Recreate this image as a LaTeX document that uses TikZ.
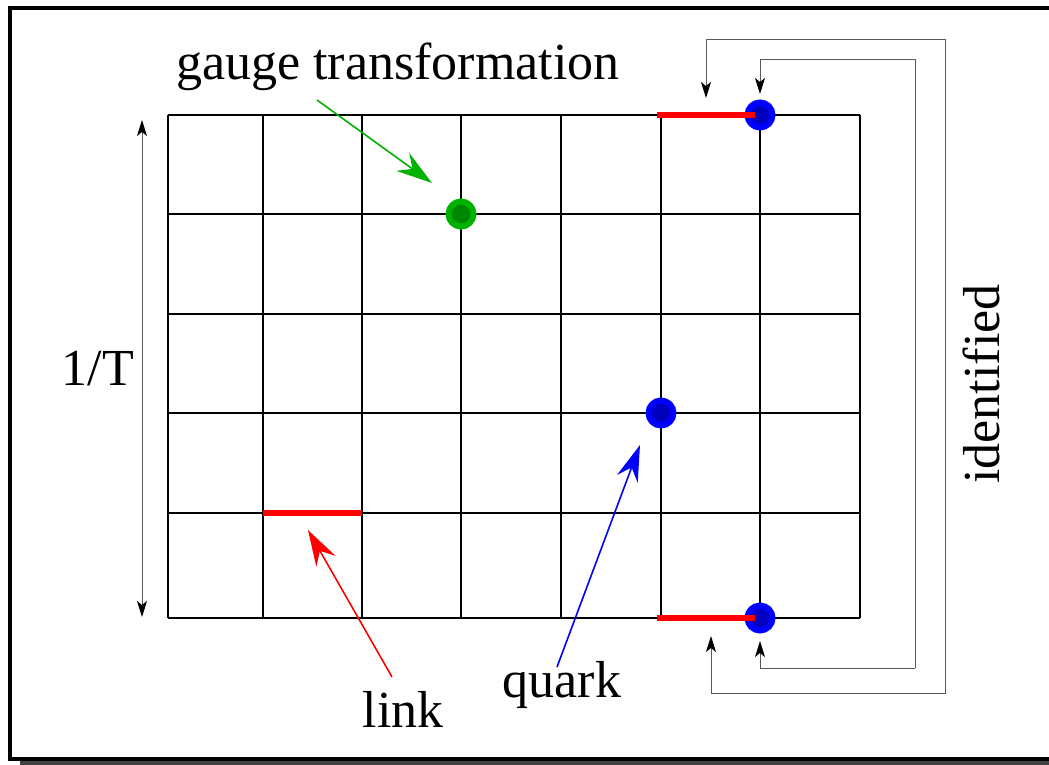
\documentclass[tikz,border=0pt]{standalone}
\usepackage{fontspec}
\setmainfont{Liberation Serif}
\usetikzlibrary{arrows.meta}
\tikzset{
  lbl/.style={font=\fontsize{26}{31}\selectfont, anchor=base},
  pointer/.style={line width=0.8pt, -{Stealth[length=18pt,width=11pt,inset=6pt]}},
  ident/.style={line width=0.5pt, gray!70!black, -{Stealth[length=8pt,width=5pt,inset=2pt,black]}},
  link/.style={red, line width=2.8pt},
  site/.style={circle, inner sep=0pt, minimum size=12.5pt, fill=#1!75!black, draw=#1, line width=3pt}
}
\begin{document}
\begin{tikzpicture}[x=0.5pt, y=-0.5pt]
  \useasboundingbox (0,0) rectangle (1049,765);
  % frame with shadow
  \fill[black!75] (20,18) rectangle (1065,765);
  \draw[line width=2pt, fill=white] (10,8) rectangle (1055,759);
  % lattice
  \foreach \x in {168,263,362,461,561,661,760,860}
    \draw[line width=1pt] (\x,115) -- (\x,618);
  \foreach \y in {115,214,314,413,513,618}
    \draw[line width=1pt] (168,\y) -- (860,\y);
  % sites
  \node[site=green!70!black] (g) at (461,214) {};
  \node[site=blue] (q1) at (760,115) {};
  \node[site=blue] (q2) at (661,413) {};
  \node[site=blue] (q3) at (760,618) {};
  % links
  \draw[link] (263,513) -- (362,513);
  \draw[link] (657,115) -- (755,115);
  \draw[link] (657,618) -- (755,618);
  % labels
  \node[lbl] (gauge) at (398,80) {gauge transformation};
  \node[lbl] (len) at (98,385) {1/T};
  \node[lbl] (lnk) at (403,727) {link};
  \node[lbl] (qrk) at (562,697) {quark};
  \node[lbl, rotate=90] (idf) at (999,384) {identified};
  % pointers
  \coordinate (gs) at (317,100);
  \coordinate (ge) at (432,183);
  \coordinate (ls) at (392,677);
  \coordinate (le) at (308,530);
  \coordinate (qs) at (557,667);
  \coordinate (qe) at (640,445);
  \draw[pointer, green!70!black] (gs) -- (ge);
  \draw[pointer, red] (ls) -- (le);
  \draw[pointer, blue] (qs) -- (qe);
  % extent 1/T
  \coordinate (t1) at (142,120);
  \coordinate (t2) at (142,617);
  \draw[ident, {Stealth[length=8pt,width=5pt,inset=2pt,black]}-{Stealth[length=8pt,width=5pt,inset=2pt,black]}] (t1) -- (t2);
  % identification
  \draw[ident] (711,693) -- (945,693) -- (945,40) -- (706,40) -- (706,98);
  \draw[ident] (945,693) -- (711,693) -- (711,636);
  \draw[ident] (915,668) -- (915,60) -- (760,60) -- (760,94);
  \draw[ident] (915,668) -- (760,668) -- (760,641);
\end{tikzpicture}
\end{document}
